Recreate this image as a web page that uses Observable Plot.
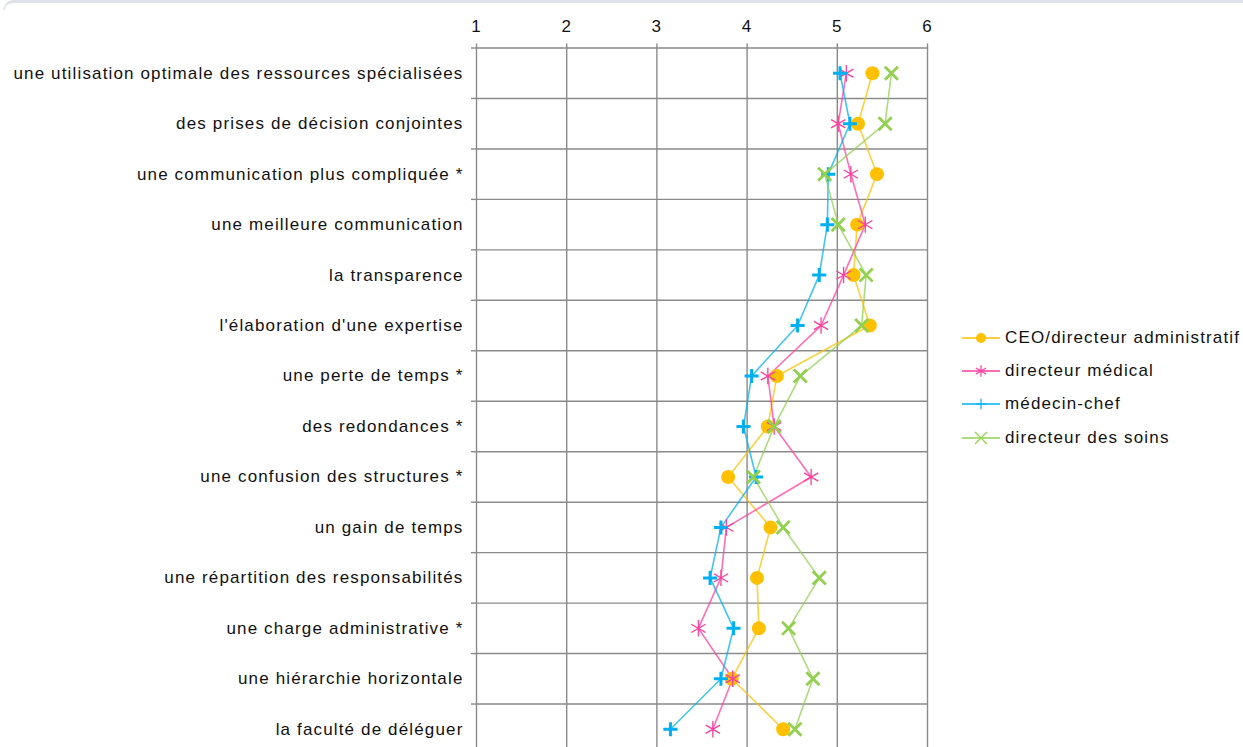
<!DOCTYPE html>
<html><head><meta charset="utf-8">
<script src="https://cdn.jsdelivr.net/npm/d3@7"></script>
<script src="https://cdn.jsdelivr.net/npm/@observablehq/plot@0.6"></script>
<style>
html,body{margin:0;padding:0;background:#fff;overflow:hidden;}
#wrap{position:relative;width:1243px;height:747px;overflow:hidden;font-family:"Liberation Sans",Arial,sans-serif;}
#border{position:absolute;left:3px;top:0;width:1260px;height:10px;border-top:3px solid #dfe2ea;border-left:2px solid #e6e8ee;border-top-left-radius:12px;box-sizing:border-box;}
#chart{position:absolute;left:0;top:0;}
#legend{position:absolute;left:962px;top:321px;}
.item{display:flex;align-items:center;height:33.3px;font-size:17px;letter-spacing:1.15px;color:#111;}
.item svg{margin-right:4px;}
</style></head>
<body><div id="wrap"><div id="border"></div><div id="chart"></div><div id="legend"></div></div>
<script>
const categories = [
  "une utilisation optimale des ressources spécialisées",
  "des prises de décision conjointes",
  "une communication plus compliquée *",
  "une meilleure communication",
  "la transparence",
  "l'élaboration d'une expertise",
  "une perte de temps *",
  "des redondances *",
  "une confusion des structures *",
  "un gain de temps",
  "une répartition des responsabilités",
  "une charge administrative *",
  "une hiérarchie horizontale",
  "la faculté de déléguer"
];
const xTicks = [1, 2, 3, 4, 5, 6];
const seriesNames = ["CEO/directeur administratif", "directeur médical", "médecin-chef", "directeur des soins"];
const seriesColors = ["#ffc000", "#ff3d9e", "#00b0f0", "#92d050"];
const seriesSymbols = ["circle", "asterisk", "plus", "times"];
const ceo     = [5.39, 5.23, 5.44, 5.22, 5.18, 5.36, 4.33, 4.23, 3.79, 4.26, 4.11, 4.13, 3.83, 4.40];
const medical = [5.10, 5.01, 5.15, 5.31, 5.07, 4.82, 4.23, 4.30, 4.71, 3.77, 3.71, 3.46, 3.84, 3.62];
const chef    = [5.03, 5.14, 4.90, 4.89, 4.80, 4.56, 4.05, 3.96, 4.10, 3.71, 3.59, 3.85, 3.71, 3.15];
const soins   = [5.60, 5.53, 4.86, 5.01, 5.32, 5.27, 4.59, 4.30, 4.07, 4.40, 4.80, 4.46, 4.73, 4.53];
const seriesValues = [ceo, medical, chef, soins];

const symStyle = {
  circle:   {r: 7, fill: true, strokeWidth: 0},
  asterisk: {r: 7.8, fill: false, strokeWidth: 1.3},
  plus:     {r: 4.6, fill: false, strokeWidth: 3},
  times:    {r: 6, fill: false, strokeWidth: 2.8}
};

const rowsFor = vals => vals.map((v, i) => ({v, row: i + 0.5}));
const gridColor = "#8a8a8a";

const marks = [
  Plot.ruleY(d3.range(categories.length + 1), {stroke: gridColor, strokeWidth: 1.4, strokeOpacity: 1}),
  Plot.ruleX(xTicks, {stroke: gridColor, strokeWidth: 1.4, strokeOpacity: 1}),
  Plot.axisX(xTicks, {anchor: "top", label: null, tickSize: 5, tickPadding: 11, stroke: gridColor, strokeWidth: 1.4, fontSize: 17, fill: "#111", tickFormat: d => String(d)}),
  Plot.axisY(d3.range(categories.length + 1), {anchor: "left", label: null, tickSize: 5, stroke: gridColor, strokeWidth: 1.4, tickFormat: () => ""}),
  Plot.axisY(d3.range(categories.length).map(i => i + 0.5), {anchor: "left", label: null, tickSize: 0, tickPadding: 13, fontSize: 17, fill: "#111", tickFormat: d => categories[Math.round(d - 0.5)]})
];
seriesValues.forEach((vals, k) => {
  marks.push(Plot.line(rowsFor(vals), {x: "v", y: "row", stroke: seriesColors[k], strokeWidth: 1.6, strokeOpacity: 0.75}));
});
seriesValues.forEach((vals, k) => {
  const s = symStyle[seriesSymbols[k]];
  marks.push(Plot.dot(rowsFor(vals), {
    x: "v", y: "row", symbol: seriesSymbols[k], r: s.r,
    fill: s.fill ? seriesColors[k] : "none",
    stroke: s.fill ? "none" : seriesColors[k],
    strokeWidth: s.strokeWidth
  }));
});

const chart = Plot.plot({
  width: 1243,
  height: 754,
  marginLeft: 476,
  marginRight: 316,
  marginTop: 47.5,
  marginBottom: 0,
  style: {fontFamily: '"Liberation Sans", Arial, sans-serif', letterSpacing: "1.15px", background: "transparent"},
  x: {domain: [1, 6], label: null},
  y: {domain: [0, categories.length], reverse: true, label: null},
  marks
});
document.getElementById("chart").appendChild(chart);

// legend
const legend = d3.select("#legend");
seriesNames.forEach((name, k) => {
  const item = legend.append("div").attr("class", "item");
  const svg = item.append("svg").attr("width", 39).attr("height", 16);
  svg.append("line").attr("x1", 0).attr("x2", 38).attr("y1", 8).attr("y2", 8)
    .attr("stroke", seriesColors[k]).attr("stroke-width", 1.6);
  const sym = {circle: d3.symbolCircle, asterisk: d3.symbolAsterisk, plus: d3.symbolPlus, times: d3.symbolTimes}[seriesSymbols[k]];
  const isFill = seriesSymbols[k] === "circle";
  const r = isFill ? 5 : (seriesSymbols[k] === "plus" ? 3.5 : 5.5);
  svg.append("path").attr("transform", "translate(19,8)")
    .attr("d", d3.symbol(sym, r * r * Math.PI)())
    .attr("fill", isFill ? seriesColors[k] : "none")
    .attr("stroke", isFill ? "none" : seriesColors[k])
    .attr("stroke-width", isFill ? 0 : 1.2);
  item.append("span").text(name);
});
</script></body></html>
